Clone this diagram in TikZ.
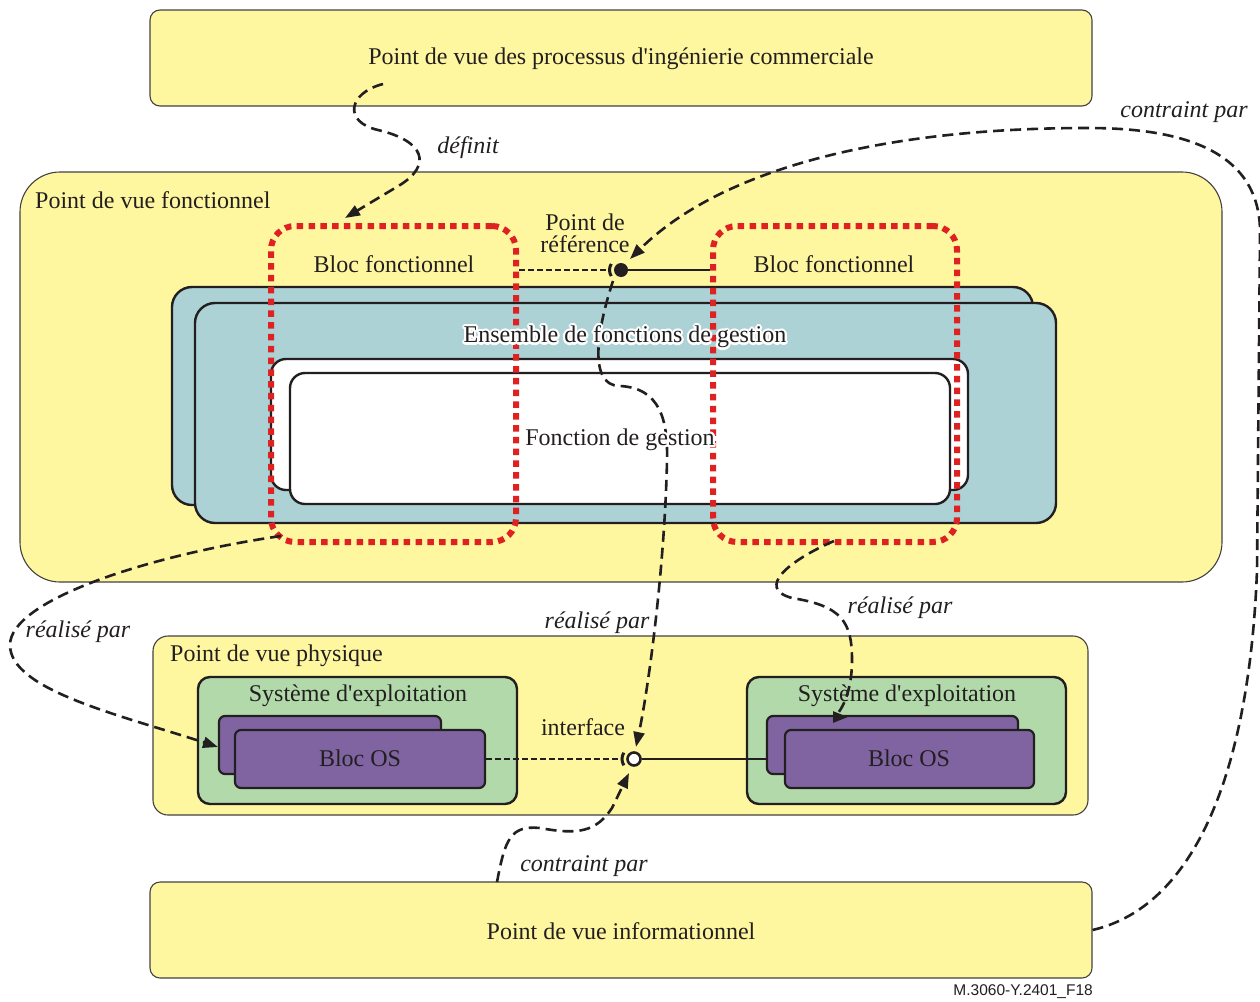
\documentclass[tikz,border=0pt]{standalone}
\usepackage{fontspec}
\setmainfont{Liberation Serif}[Ligatures=TeXOff]
\newfontfamily\capfont{Liberation Sans}
\usetikzlibrary{arrows.meta,calc}

\definecolor{viewyellow}{RGB}{255,247,160}
\definecolor{setteal}{RGB}{172,210,214}
\definecolor{osgreen}{RGB}{178,217,170}
\definecolor{ospurple}{RGB}{128,100,162}
\definecolor{blocred}{RGB}{222,34,34}
\definecolor{inkgray}{RGB}{35,31,32}

% text with a thin white outline, drawn on top of lines
\newcommand\halolabel[3]{%
  \foreach \ang in {0,22.5,...,337.5}{\node[txt,text=white] at ($(#1)+(\ang:2.2)$) {#3};}
  \node[txt] (#2) at (#1) {#3};}

\begin{document}
\begin{tikzpicture}[x=1pt,y=-1pt,
  txt/.style={inner sep=0pt,text=inkgray,font=\fontsize{24}{22}\selectfont},
  itxt/.style={txt,font=\fontsize{24}{22}\selectfont\itshape},
  viewbox/.style={draw=inkgray!85,line width=1.1pt,fill=viewyellow,inner sep=0pt},
  setbox/.style={draw=inkgray,line width=2.4pt,fill=setteal,rounded corners=20pt,inner sep=0pt},
  fnbox/.style={draw=inkgray,line width=2.4pt,fill=white,rounded corners=15pt,inner sep=0pt},
  sysbox/.style={draw=inkgray,line width=2.4pt,fill=osgreen,rounded corners=12pt,inner sep=0pt},
  osbox/.style={draw=inkgray,line width=2.2pt,fill=ospurple,rounded corners=6pt,inner sep=0pt},
  blocbox/.style={draw=blocred,line width=6pt,dash pattern=on 6.5pt off 5.3pt,rounded corners=24pt,inner sep=0pt},
  conn/.style={draw=inkgray,line width=2.6pt,dash pattern=on 11pt off 6pt,-{Triangle[length=15pt,width=11pt]}},
  dotlink/.style={draw=inkgray,line width=2.4pt,dash pattern=on 6pt off 3pt},
  solidlink/.style={draw=inkgray,line width=2.6pt},
  port/.style={circle,draw=inkgray,line width=2.6pt,minimum size=13pt,inner sep=0pt},
  portarc/.style={draw=inkgray,line width=3pt}]

\useasboundingbox (0,0) rectangle (1260,1001);
\fill[white] (0,0) rectangle (1260,1001);

% ---- viewpoints ----
\node[viewbox,rounded corners=10pt,minimum width=942pt,minimum height=96pt] (bizview) at (621,58) {};
\node[txt] (biztext) at (621,59) {Point de vue des processus d'ingénierie commerciale};

\node[viewbox,rounded corners=40pt,minimum width=1202pt,minimum height=410pt] (fnview) at (621,377) {};
\node[txt,anchor=west] (fntitle) at (35,200) {Point de vue fonctionnel};

% management function sets
\node[setbox,minimum width=861pt,minimum height=218pt] (setback) at (602.5,396) {};
\node[setbox,minimum width=861pt,minimum height=220pt] (setfront) at (625.5,413) {};
\node[fnbox,minimum width=697pt,minimum height=131pt] (fnback) at (619.5,424.5) {};
\node[fnbox,minimum width=660pt,minimum height=131pt] (fnfront) at (620,438.5) {};

% functional blocks
\node[blocbox,minimum width=245pt,minimum height=316pt] (blocL) at (393.5,384) {};
\node[blocbox,minimum width=244pt,minimum height=316pt] (blocR) at (835,384) {};
\node[txt] (blocLtext) at (394,264) {Bloc fonctionnel};
\node[txt] (blocRtext) at (834,264) {Bloc fonctionnel};

% reference point
\node[txt,align=center] (reftext) at (585,233) {Point de\\référence};
\node[circle,fill=inkgray,minimum size=14pt,inner sep=0pt] (refdot) at (621,270) {};
\draw[dotlink] (refdot -| blocL.east) -- ($(refdot.center)+(-13,0)$);
\draw[solidlink] (refdot.center) -- (refdot -| blocR.west);
\draw[portarc] (refdot.center) ++(148:11.5) arc[start angle=148,end angle=212,radius=11.5];

% physical viewpoint
\node[viewbox,rounded corners=15pt,minimum width=935pt,minimum height=179pt] (physview) at (620.5,725.5) {};
\node[txt,anchor=west] (phystitle) at (170,656) {Point de vue physique};

\node[sysbox,minimum width=319pt,minimum height=127pt] (osL) at (357.5,740.5) {};
\node[txt] (osLtext) at (358,696) {Système d'exploitation};
\node[osbox,minimum width=222pt,minimum height=58pt] (bosL1) at (330,745) {};
\node[osbox,minimum width=250pt,minimum height=58pt] (bosL2) at (360,759) {};
\node[txt] (bosLtext) at (360,758) {Bloc OS};

\node[sysbox,minimum width=319pt,minimum height=127pt] (osR) at (906.5,740.5) {};
\node[txt] (osRtext) at (907,696) {Système d'exploitation};
\node[osbox,minimum width=251pt,minimum height=58pt] (bosR1) at (892.5,745) {};
\node[osbox,minimum width=249pt,minimum height=58pt] (bosR2) at (909.5,759) {};
\node[txt] (bosRtext) at (909,758) {Bloc OS};

% interface
\node[port,fill=white] (iface) at (634,759) {};
\node[txt] (ifacetext) at (583,727) {interface};
\draw[dotlink] (iface -| bosL2.east) -- ($(iface.center)+(-13,0)$);
\draw[solidlink] (iface.east) -- (iface -| bosR1.west);
\draw[portarc] (iface.center) ++(148:12) arc[start angle=148,end angle=212,radius=12];

% information viewpoint
\node[viewbox,rounded corners=10pt,minimum width=942pt,minimum height=96pt] (infoview) at (621,930) {};
\node[txt] (infotext) at (621,931) {Point de vue informationnel};

% ---- relations ----
\coordinate (defA) at (383,84);
\coordinate (defB) at (345,218);
\draw[conn] (defA) .. controls (348,93) and (343,122) .. (378,130)
  .. controls (425,141) and (432,165) .. (400,185) -- (defB);
\node[itxt] (deftext) at (468,148) {définit};

\coordinate (refin) at (630,259);
\draw[conn] (infoview.east) .. controls (1200,905) and (1250,760) .. (1257,570)
  -- (1260,235) .. controls (1262,140) and (1160,128) .. (1087,128)
  .. controls (880,128) and (720,170) .. (refin);
\node[itxt] (topctext) at (1184,112) {contraint par};

\coordinate (midA) at (613,281);
\coordinate (midB) at (636,747);
\draw[conn] (midA) .. controls (600,320) and (585,386) .. (620,386)
  .. controls (660,388) and (668,420) .. (667,460)
  .. controls (665,560) and (650,680) .. (midB);
\node[itxt] (midtext) at (597,623) {réalisé par};

\coordinate (leftA) at (281,536);
\coordinate (leftB) at (218,747);
\draw[conn] (leftA) .. controls (150,555) and (10,600) .. (10,645)
  .. controls (10,690) and (120,715) .. (leftB);
\node[itxt] (lefttext) at (78,632) {réalisé par};

\coordinate (rightA) at (834,541);
\coordinate (rightB) at (848,717);
\draw[conn] (rightA) .. controls (790,560) and (755,588) .. (792,598)
  .. controls (842,606) and (852,622) .. (852,660)
  .. controls (852,700) and (836,717) .. (rightB);
\node[itxt] (righttext) at (900,608) {réalisé par};

\coordinate (botA) at (497,882);
\coordinate (botB) at (629,773);
\draw[conn] (botA) .. controls (505,840) and (510,825) .. (540,828)
  .. controls (578,835) and (596,832) .. (612,808) -- (botB);
\node[itxt] (bottext) at (584,866) {contraint par};

% outlined labels over the blocks
\halolabel{625,337}{settext}{Ensemble de fonctions de gestion}
\halolabel{620,440}{fntext}{Fonction de gestion}

\node[anchor=east,inner sep=0pt,font=\capfont\fontsize{15.5}{16}\selectfont,text=inkgray] (figid) at (1093,992) {M.3060-Y.2401\_F18};
\end{tikzpicture}
\end{document}
